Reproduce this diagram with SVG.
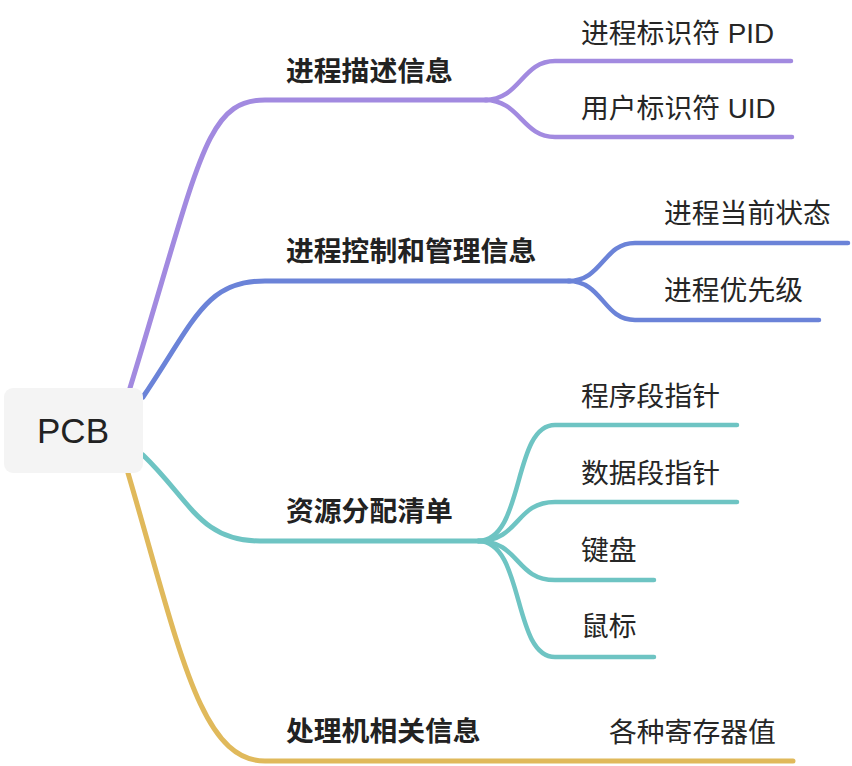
<svg xmlns="http://www.w3.org/2000/svg" width="852" height="766" viewBox="0 0 852 766">
<style>
  .t { font-family: "Liberation Sans", "Noto Sans CJK SC", sans-serif; font-size: 27.8px; fill: #262626; }
  .b { font-weight: 700; fill: #222; }
  .ln { fill: none; stroke-linecap: round; stroke-linejoin: round; }
  .m { stroke-width: 5; }
  .s { stroke-width: 4.5; }
  .p { stroke: #a28ae0; }
  .bl { stroke: #6b83d8; }
  .tl { stroke: #6ec4c3; }
  .g { stroke: #e0b95b; }
</style>
<rect width="852" height="766" fill="#ffffff"/>
<g id="connectors">
  <path class="ln m p" d="M130,388 C200,160 205,100 265,100 L487,100"/>
  <path class="ln s p" d="M485,100 C520,100 522,61 555,61 L791,61"/>
  <path class="ln s p" d="M485,100 C520,100 522,137 555,137 L792,137"/>
  <path class="ln m bl" d="M143,397 C195,320 205,281 265,281 L570,281"/>
  <path class="ln s bl" d="M568,281 C603,281 603,243 635,243 L848,243"/>
  <path class="ln s bl" d="M568,281 C603,281 603,320 635,320 L819,320"/>
  <path class="ln m tl" d="M143,455 C190,500 200,541 260,541 L482,541"/>
  <path class="ln s tl" d="M478,541 C525,541 512,425 555,425 L737,425"/>
  <path class="ln s tl" d="M478,541 C520,541 515,502 555,502 L737,502"/>
  <path class="ln s tl" d="M478,541 C520,541 515,580 555,580 L654,580"/>
  <path class="ln s tl" d="M478,541 C525,541 512,657 555,657 L654,657"/>
  <path class="ln m g" d="M128,473 C180,650 200,761 265,761 L793,761"/>
</g>
<g id="root">
  <rect x="4" y="388" width="139" height="85" rx="9" fill="#f4f4f4"/>
  <text x="73" y="443" text-anchor="middle" style="font-family: 'Liberation Sans', Arial, sans-serif; font-size: 35px; fill: #222;">PCB</text>
</g>
<g id="n1"><text class="t b" x="286" y="81">进程描述信息</text></g>
<g id="n1a"><text class="t" x="581" y="43">进程标识符 PID</text></g>
<g id="n1b"><text class="t" x="581" y="118">用户标识符 UID</text></g>
<g id="n2"><text class="t b" x="286" y="261">进程控制和管理信息</text></g>
<g id="n2a"><text class="t" x="664" y="223">进程当前状态</text></g>
<g id="n2b"><text class="t" x="664" y="300">进程优先级</text></g>
<g id="n3"><text class="t b" x="286" y="521">资源分配清单</text></g>
<g id="n3a"><text class="t" x="581" y="406">程序段指针</text></g>
<g id="n3b"><text class="t" x="581" y="483">数据段指针</text></g>
<g id="n3c"><text class="t" x="581" y="560">键盘</text></g>
<g id="n3d"><text class="t" x="581" y="636">鼠标</text></g>
<g id="n4"><text class="t b" x="286" y="741">处理机相关信息</text></g>
<g id="n4a"><text class="t" x="609" y="742">各种寄存器值</text></g>
</svg>
